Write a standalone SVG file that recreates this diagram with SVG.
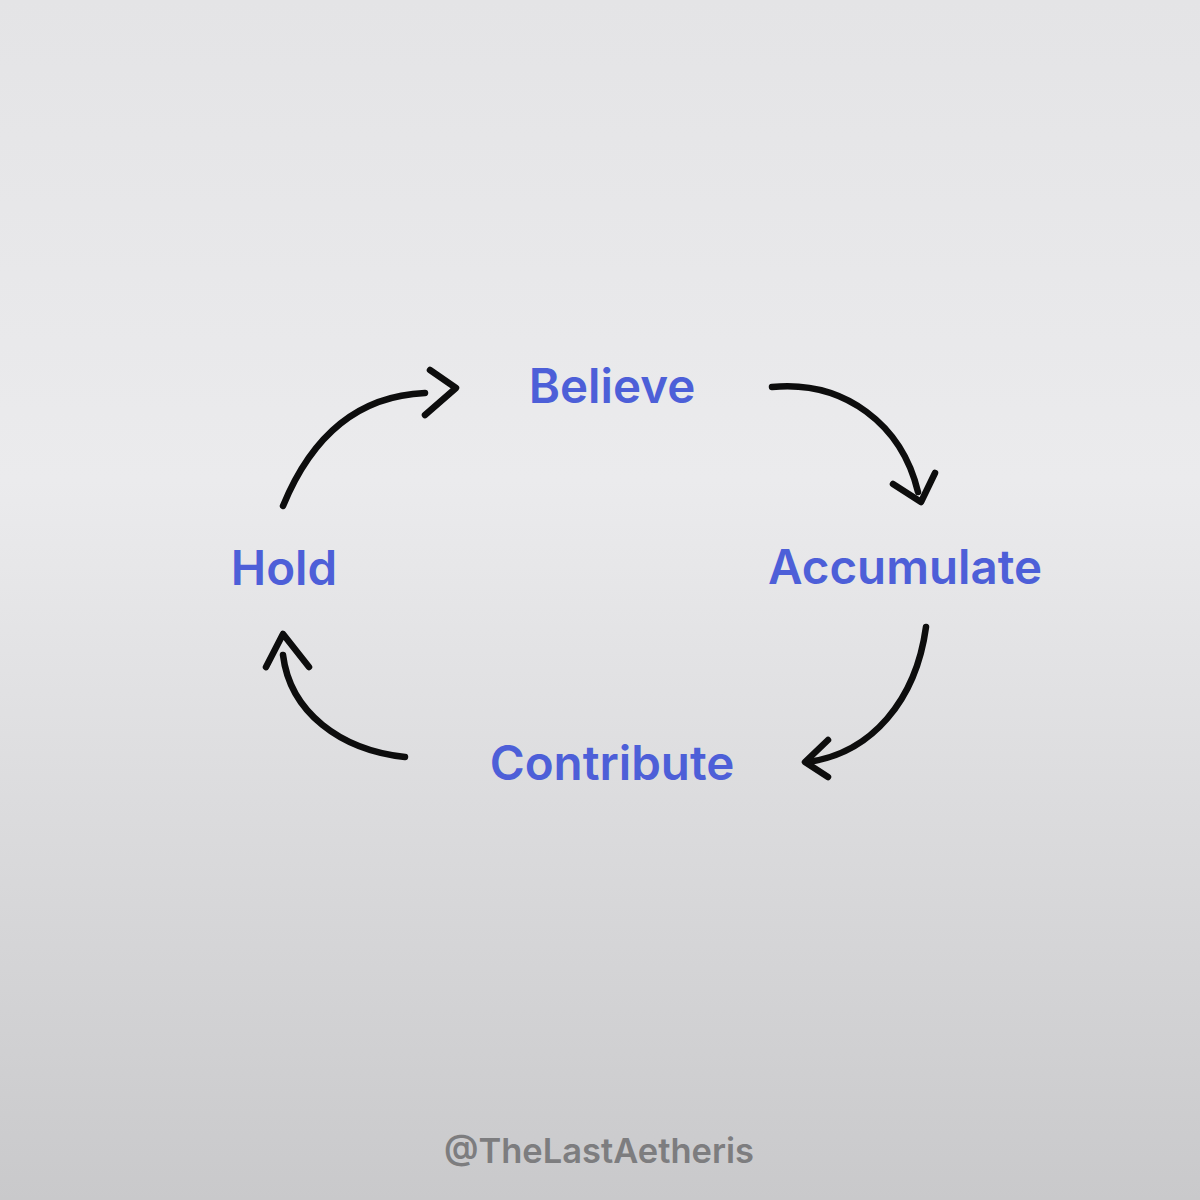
<svg xmlns="http://www.w3.org/2000/svg" width="1200" height="1200" viewBox="0 0 1200 1200">
<defs>
<linearGradient id="bg" x1="0" y1="0" x2="0" y2="1">
<stop offset="0" stop-color="#e4e4e6"/>
<stop offset="0.4" stop-color="#ebebed"/>
<stop offset="1" stop-color="#c9c9cb"/>
</linearGradient>
<style>
.lbl{font-family:Inter,"Liberation Sans",sans-serif;font-weight:600;font-size:47.5px;fill:#4d5fd8;text-anchor:middle}
.arr{fill:none;stroke:#0d0d0d;stroke-width:6.5;stroke-linecap:round;stroke-linejoin:round}
.wm{font-family:Inter,"Liberation Sans",sans-serif;font-weight:600;font-size:34.5px;fill:#7d7d7f;text-anchor:middle}
</style>
</defs>
<rect width="1200" height="1200" fill="url(#bg)"/>
<g id="connectors">
<g id="hold-believe"><path class="arr" d="M283,506 C310,440 355,396 425,393"/><path class="arr" d="M430,370 L456,388 L425,415"/></g>
<g id="believe-accumulate"><path class="arr" d="M772,387 C845,380 902,425 918,492"/><path class="arr" d="M893,484 L921,502 L935,473"/></g>
<g id="accumulate-contribute"><path class="arr" d="M926,627 C916,700 872,753 808,762"/><path class="arr" d="M828,740 L805,762 L828,777"/></g>
<g id="contribute-hold"><path class="arr" d="M405,757 C340,750 290,712 283,655"/><path class="arr" d="M266,667 L283,634 L309,667"/></g>
</g>
<g id="believe"><text class="lbl" x="612" y="403">Believe</text></g>
<g id="accumulate"><text class="lbl" x="905" y="584">Accumulate</text></g>
<g id="contribute"><text class="lbl" x="612" y="780">Contribute</text></g>
<g id="hold"><text class="lbl" x="284" y="585">Hold</text></g>
<g id="watermark"><text class="wm" x="599" y="1163">@TheLastAetheris</text></g>
</svg>
